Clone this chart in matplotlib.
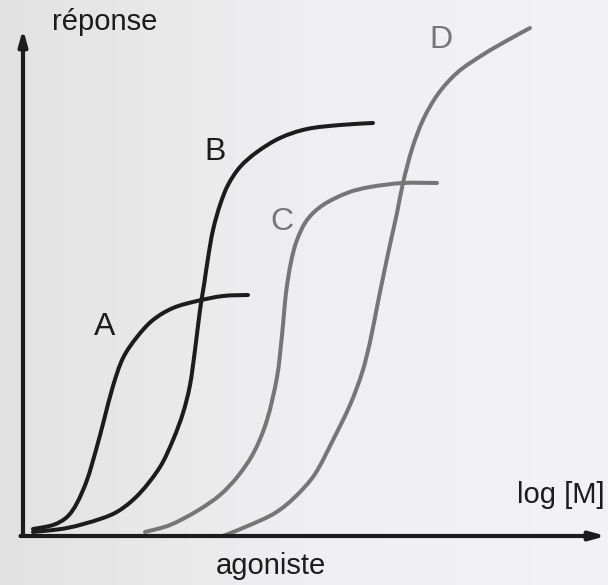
import matplotlib.pyplot as plt
from matplotlib.path import Path
from matplotlib.patches import PathPatch
import numpy as np

# dose-response curves (x: log [M] units, y: response)
a_x = [0.2, 0.6, 0.88, 1.08, 1.28, 1.46, 1.62, 1.8, 2.0, 2.28, 2.6, 3.0, 3.48, 4.0, 4.5]
a_y = [1.4, 2.2, 3.8, 6.6, 11.2, 17.2, 23.2, 30.0, 35.6, 39.8, 43.2, 45.6, 47.0, 48.0, 48.2]

b_x = [0.2, 0.88, 1.54, 1.94, 2.34, 2.74, 3.0, 3.2, 3.34, 3.44, 3.54, 3.62, 3.7, 3.8,
       3.94, 4.1, 4.34, 4.68, 5.14, 5.68, 6.34, 7.0]
b_y = [0.8, 1.6, 3.4, 5.2, 8.6, 13.8, 19.2, 24.6, 30.2, 37.2, 45.2, 50.2, 55.6, 61.2,
       66.2, 70.2, 73.8, 76.8, 79.6, 81.4, 82.2, 82.6]

c_x = [2.44, 2.94, 3.48, 3.94, 4.3, 4.62, 4.88, 5.08, 5.18, 5.26, 5.36, 5.48, 5.68, 6.0,
       6.48, 6.94, 7.6, 8.28]
c_y = [0.8, 2.2, 5.0, 8.2, 12.0, 16.8, 23.2, 31.8, 40.2, 48.6, 54.8, 59.2, 63.2, 66.2,
       68.6, 69.8, 70.6, 70.6]

d_x = [4.0, 4.54, 5.04, 5.44, 5.84, 6.2, 6.54, 6.78, 6.94, 7.1, 7.24, 7.36, 7.48, 7.6,
       7.78, 8.0, 8.3, 8.7, 9.22, 9.7, 10.14]
d_y = [0.0, 2.2, 4.6, 7.8, 12.4, 19.2, 26.2, 32.6, 38.8, 46.8, 53.6, 59.2, 64.6, 70.6,
       77.4, 83.2, 88.4, 92.8, 96.4, 99.2, 101.6]

curve_names = ["A", "B", "C", "D"]
label_pos = [(1.64, 41.8), (3.84, 76.8), (5.18, 62.8), (8.36, 99.2)]


def smooth_path(xs, ys, ax):
    # catmull-rom through the read points, drawn as cubic bezier segments
    # (done in display space so the tangents are not distorted by the axis scales)
    pts = ax.transData.transform(np.column_stack([xs, ys]))
    verts = [pts[0]]
    codes = [Path.MOVETO]
    n = len(pts)
    for i in range(n - 1):
        p0 = pts[max(i - 1, 0)]
        p1 = pts[i]
        p2 = pts[i + 1]
        p3 = pts[min(i + 2, n - 1)]
        c1 = p1 + (p2 - p0) / 6
        c2 = p2 - (p3 - p1) / 6
        verts += [c1, c2, p2]
        codes += [Path.CURVE4] * 3
    verts = ax.transData.inverted().transform(np.array(verts))
    return Path(verts, codes)


plt.rcParams["font.family"] = ["Liberation Sans", "DejaVu Sans"]

fig = plt.figure(figsize=(6.08, 5.85), dpi=100)
ax = fig.add_axes([0, 0, 1, 1])
ax.set_xlim(-0.46, 11.7)
ax.set_ylim(-9.8, 107.2)
ax.axis("off")

# scanned-paper look: slightly darker on the left, lighter on the right
shade = np.linspace(0, 1, 256).reshape(1, -1)
ax.imshow(shade, cmap=plt.matplotlib.colors.LinearSegmentedColormap.from_list(
    "paper", ["#e2e2e2", "#efeff1", "#f3f3f5"]),
    extent=[-0.46, 11.7, -9.8, 107.2], aspect="auto", zorder=0)

dark = "#1c1c1c"
grey = "#767676"
colors = [dark, dark, grey, grey]

# axes with arrows
arrow = dict(arrowstyle="-|>,head_width=0.25,head_length=0.9", lw=3, color=dark,
             shrinkA=0, shrinkB=0)
ax.annotate("", xy=(0, 101.4), xytext=(0, 0), arrowprops=arrow)
ax.annotate("", xy=(11.66, 0), xytext=(-0.05, 0), arrowprops=arrow)

for xs, ys, c in zip([a_x, b_x, c_x, d_x], [a_y, b_y, c_y, d_y], colors):
    ax.add_patch(PathPatch(smooth_path(xs, ys, ax), facecolor="none", edgecolor=c,
                           lw=2.9, capstyle="round", joinstyle="round", zorder=2))

for name, (lx, ly), c in zip(curve_names, label_pos, colors):
    ax.text(lx, ly, name, color=c, fontsize=23, ha="center", va="center")

ax.text(1.64, 102.8, "réponse", fontsize=21, ha="center", va="center", color=dark)
ax.text(10.76, 8.2, "log [M]", fontsize=21, ha="center", va="center", color=dark)
ax.text(4.96, -6.0, "agoniste", fontsize=21, ha="center", va="center", color=dark)

fig.savefig("out.png", dpi=100)
